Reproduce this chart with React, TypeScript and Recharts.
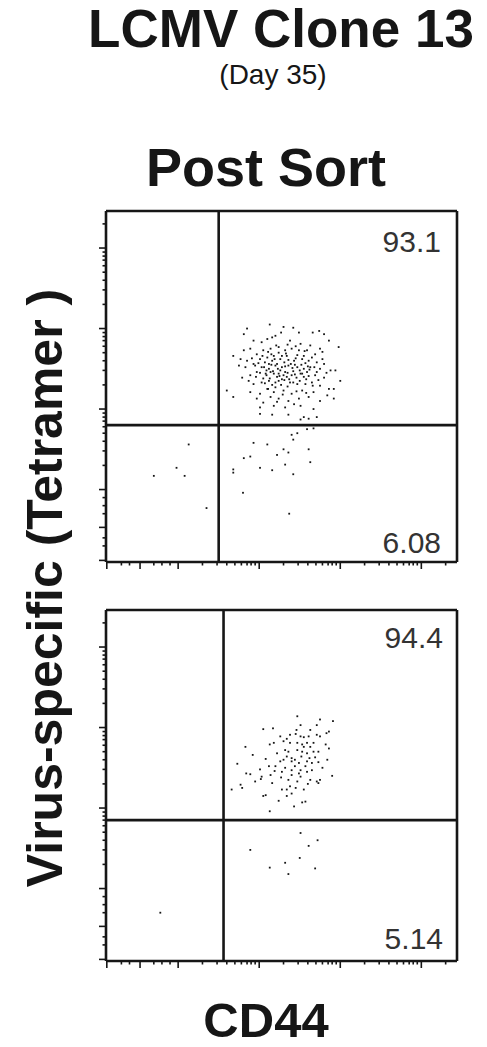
import React from 'react'
import {
  ScatterChart,
  Scatter,
  XAxis,
  YAxis,
  ReferenceLine,
} from 'recharts'

// axis units: 0 = zero channel, 1..3 = decades (biexponential display)
const X_DOMAIN: [number, number] = [-0.89, 3.44]
const Y_DOMAIN: [number, number] = [-0.9, 3.46]

const MAJOR_TICKS = [-0.88, -0.47, 0, 1, 2, 3]
const NEG_MINOR_TICKS = [-0.7, -0.6, -0.3, -0.2, -0.1]
const DECADES = [0, 1, 2, 3]
const LOG_OFFSETS = [0.3, 0.48, 0.6, 0.7, 0.78, 0.85, 0.9, 0.95]

const MINOR_TICKS = [
  ...NEG_MINOR_TICKS,
  ...DECADES.flatMap((d) => LOG_OFFSETS.map((o) => +(d + o).toFixed(2))),
].filter((t) => t < 3.42)

const ALL_TICKS = [...MAJOR_TICKS, ...MINOR_TICKS].sort((a, b) => a - b)

// ---- Panel 1 (top) ----
const GATE_X_1 = 0.5
const GATE_Y_1 = 0.8

const upperRight1: [number, number][] = [
  [1.13, 2.05], [1.30, 2.02], [1.42, 2.01], [0.81, 1.93], [1.27, 1.95], [1.49, 1.95],
  [1.66, 1.95], [1.74, 1.97], [1.80, 1.93], [0.85, 2.00],
  [0.93, 1.85], [1.03, 1.83], [1.10, 1.87], [1.16, 1.89], [1.20, 1.91], [1.38, 1.85],
  [1.51, 1.81], [1.63, 1.79], [1.75, 1.75], [1.98, 1.77], [1.86, 1.85],
  [0.81, 1.73], [0.89, 1.75], [0.97, 1.68], [1.05, 1.73], [1.14, 1.75], [1.24, 1.77],
  [1.32, 1.73], [1.40, 1.75], [1.49, 1.73], [1.59, 1.73], [1.69, 1.68], [1.78, 1.71],
  [0.68, 1.66], [0.77, 1.62], [0.85, 1.60], [0.93, 1.56], [1.01, 1.62], [1.10, 1.64],
  [1.18, 1.66], [1.26, 1.62], [1.34, 1.66], [1.43, 1.60], [1.53, 1.62], [1.61, 1.60],
  [1.71, 1.58], [1.80, 1.56],
  [0.75, 1.54], [0.83, 1.52], [0.95, 1.54], [1.03, 1.52], [1.12, 1.50], [1.20, 1.54],
  [1.28, 1.52], [1.36, 1.54], [1.47, 1.52], [1.55, 1.50], [1.63, 1.52], [1.75, 1.50],
  [1.88, 1.48], [1.94, 1.48],
  [0.79, 1.39], [0.89, 1.42], [0.97, 1.46], [1.08, 1.44], [1.14, 1.46], [1.24, 1.44],
  [1.32, 1.46], [1.40, 1.42], [1.51, 1.44], [1.59, 1.46], [1.69, 1.42], [1.80, 1.39],
  [2.00, 1.35],
  [0.87, 1.35], [0.93, 1.31], [1.03, 1.33], [1.12, 1.35], [1.20, 1.33], [1.28, 1.37],
  [1.38, 1.33], [1.47, 1.31], [1.57, 1.31], [1.65, 1.33], [1.75, 1.29], [1.92, 1.25],
  [0.68, 1.15], [0.89, 1.21], [1.01, 1.19], [1.10, 1.25], [1.18, 1.21], [1.30, 1.23],
  [1.40, 1.19], [1.53, 1.23], [1.67, 1.21], [1.84, 1.17], [1.86, 1.25],
  [0.97, 1.13], [1.05, 1.08], [1.14, 1.15], [1.24, 1.13], [1.36, 1.10], [1.49, 1.13],
  [1.61, 1.15], [1.75, 1.10], [1.92, 1.13],
  [1.01, 1.02], [1.18, 1.04], [1.32, 1.02], [1.51, 1.04], [1.67, 1.00],
  [1.01, 0.94], [1.16, 0.93], [1.36, 0.93], [1.55, 0.90], [1.61, 0.88], [1.71, 0.90],
  [0.60, 1.23], [1.51, 0.87],
  // dense core
  [1.07, 1.58], [1.16, 1.60], [1.22, 1.56], [1.31, 1.58], [1.39, 1.56], [1.45, 1.63],
  [1.09, 1.48], [1.18, 1.44], [1.26, 1.48], [1.34, 1.40], [1.42, 1.47], [1.50, 1.48],
  [1.13, 1.38], [1.22, 1.40], [1.30, 1.42], [1.37, 1.37], [1.46, 1.39], [1.55, 1.40],
  [1.01, 1.45], [1.15, 1.68], [1.24, 1.70], [1.33, 1.69], [1.57, 1.57], [1.62, 1.49],
  [1.05, 1.38], [1.27, 1.30], [1.35, 1.28], [1.20, 1.27], [1.44, 1.55], [1.12, 1.56],
  [1.04, 1.66], [1.11, 1.71], [1.19, 1.62], [1.28, 1.66], [1.36, 1.61], [1.47, 1.67],
  [1.55, 1.66], [1.65, 1.64], [1.06, 1.52], [1.15, 1.55], [1.23, 1.50], [1.32, 1.53],
  [1.41, 1.51], [1.52, 1.55], [1.60, 1.53], [1.68, 1.52], [1.09, 1.42], [1.17, 1.47],
  [1.25, 1.41], [1.35, 1.45], [1.44, 1.43], [1.53, 1.44], [1.61, 1.41], [1.71, 1.46],
  [1.07, 1.32], [1.16, 1.30], [1.24, 1.35], [1.31, 1.36], [1.42, 1.33], [1.50, 1.35],
  [1.58, 1.37], [1.66, 1.29], [0.99, 1.57], [0.96, 1.40], [1.78, 1.62], [1.83, 1.45],
  [1.73, 1.36], [0.91, 1.63], [1.21, 1.79], [1.35, 1.80], [1.45, 1.78], [1.56, 1.72],
  [1.11, 1.25], [1.29, 1.18], [1.46, 1.22], [1.58, 1.20], [1.22, 1.09], [1.43, 1.06],
]

const lowerRight1: [number, number][] = [
  [1.40, 0.68], [1.42, 0.62], [1.47, 0.70], [1.59, 0.75], [1.67, 0.76], [0.93, 0.58],
  [1.10, 0.56], [1.30, 0.50], [1.22, 0.43], [1.36, 0.46], [1.61, 0.50], [0.89, 0.41],
  [0.81, 0.39], [1.01, 0.27], [1.16, 0.24], [1.32, 0.31], [1.42, 0.19], [1.63, 0.34],
  [0.68, 0.25], [0.68, 0.21], [0.80, -0.04], [1.37, -0.30],
]

const lowerLeft1: [number, number][] = [
  [-0.30, 0.17], [-0.02, 0.27], [0.08, 0.17], [0.13, 0.56], [0.35, -0.23],
]

// ---- Panel 2 (bottom) ----
const GATE_X_2 = 0.56
const GATE_Y_2 = 0.85

const upperRight2: [number, number][] = [
  [1.47, 2.14], [1.75, 2.10], [1.91, 2.08], [1.51, 2.03], [1.71, 2.03], [1.05, 1.98],
  [1.17, 1.99], [1.46, 1.97], [1.63, 1.97], [1.83, 1.93], [1.86, 1.95], [1.26, 1.89],
  [1.38, 1.91], [1.51, 1.89], [1.55, 1.88], [1.61, 1.89], [1.71, 1.91], [1.75, 1.89],
  [1.13, 1.79], [1.18, 1.81], [1.30, 1.83], [1.38, 1.81], [1.47, 1.81], [1.53, 1.79],
  [1.59, 1.81], [1.67, 1.81], [1.82, 1.79], [1.86, 1.74], [0.83, 1.76],
  [1.22, 1.68], [1.32, 1.72], [1.47, 1.72], [1.53, 1.70], [1.59, 1.68], [1.67, 1.70],
  [1.73, 1.70], [0.92, 1.66], [1.34, 1.64],
  [0.73, 1.55], [1.26, 1.58], [1.30, 1.60], [1.40, 1.58], [1.49, 1.56], [1.59, 1.58],
  [1.65, 1.56], [1.73, 1.57], [1.84, 1.60],
  [1.01, 1.48], [1.12, 1.52], [1.20, 1.52], [1.32, 1.50], [1.40, 1.47], [1.51, 1.47],
  [1.59, 1.45], [1.65, 1.47], [1.78, 1.50],
  [0.84, 1.43], [0.89, 1.42], [1.03, 1.39], [1.14, 1.41], [1.28, 1.45], [1.40, 1.41],
  [1.49, 1.43], [1.51, 1.39], [1.90, 1.40],
  [0.77, 1.29], [0.95, 1.33], [1.02, 1.36], [1.16, 1.31], [1.36, 1.35], [1.47, 1.33],
  [1.63, 1.35], [1.71, 1.33], [1.75, 1.35],
  [0.66, 1.23], [0.79, 1.25], [1.28, 1.23], [1.34, 1.23], [1.38, 1.27], [1.45, 1.25],
  [1.55, 1.23], [1.73, 1.31],
  [1.05, 1.15], [1.08, 1.16], [1.24, 1.09], [1.34, 1.15], [1.40, 1.18], [1.53, 1.07],
  [1.57, 1.08], [1.13, 0.96], [1.43, 1.02],
  [1.40, 1.62], [1.55, 1.76], [1.62, 1.62], [1.44, 1.52],
  [1.44, 1.60], [1.52, 1.64], [1.36, 1.70], [1.63, 1.76], [1.57, 1.52], [1.27, 1.38],
  [1.19, 1.46], [1.69, 1.63], [1.45, 1.92], [1.34, 1.86], [1.08, 1.61], [1.60, 1.30],
]

const lowerRight2: [number, number][] = [
  [1.51, 0.69], [1.72, 0.60], [1.61, 0.53], [0.89, 0.48], [1.13, 0.26], [1.32, 0.32],
  [1.50, 0.38], [1.69, 0.25], [1.36, 0.18],
]

const lowerLeft2: [number, number][] = [[-0.22, -0.30]]

const PLOT = 351
const AXIS_W = 10
const PAD = 4
const INK = '#161616'
const FONT = '"Liberation Sans", Arial, sans-serif'

const toData = (pts: [number, number][]) => pts.map(([x, y]) => ({ x, y }))

const Dot = (props: any) => (
  <rect x={props.cx - 0.9} y={props.cy - 0.9} width={1.8} height={1.8} fill={INK} />
)

const XTick = (props: any) => {
  const major = MAJOR_TICKS.includes(props.payload.value)
  return (
    <line x1={props.x} x2={props.x} y1={props.y} y2={props.y + (major ? 7 : 3.5)}
      stroke={INK} strokeWidth={1.6} />
  )
}

const YTick = (props: any) => {
  const major = MAJOR_TICKS.includes(props.payload.value)
  return (
    <line x1={props.x} x2={props.x - (major ? 7 : 3.5)} y1={props.y} y2={props.y}
      stroke={INK} strokeWidth={1.6} />
  )
}

interface PanelProps {
  top: number
  gateX: number
  gateY: number
  series: [number, number][][]
}

function FlowPanel({ top, gateX, gateY, series }: PanelProps) {
  const line = { stroke: INK, strokeWidth: 2.6 }
  return (
    <div style={{ position: 'absolute', left: 106 - AXIS_W, top: top - PAD }}>
      <ScatterChart
        width={AXIS_W + PLOT + PAD}
        height={PAD + PLOT + AXIS_W}
        margin={{ top: PAD, right: PAD, bottom: 0, left: 0 }}
      >
        <XAxis
          type="number"
          dataKey="x"
          domain={X_DOMAIN}
          ticks={ALL_TICKS}
          interval={0}
          allowDataOverflow
          height={AXIS_W}
          tickSize={0}
          tickMargin={0}
          tickLine={false}
          axisLine={line}
          tick={XTick}
        />
        <YAxis
          type="number"
          dataKey="y"
          domain={Y_DOMAIN}
          ticks={ALL_TICKS}
          interval={0}
          allowDataOverflow
          width={AXIS_W}
          tickSize={0}
          tickMargin={0}
          tickLine={false}
          axisLine={line}
          tick={YTick}
        />
        <ReferenceLine y={Y_DOMAIN[1]} {...line} />
        <ReferenceLine x={X_DOMAIN[1]} {...line} />
        <ReferenceLine x={gateX} {...line} />
        <ReferenceLine y={gateY} {...line} />
        {series.map((pts, i) => (
          <Scatter key={i} data={toData(pts)} shape={Dot} isAnimationActive={false} />
        ))}
      </ScatterChart>
    </div>
  )
}

export default function App() {
  return (
    <div style={{
      position: 'absolute', left: 0, top: 0, width: 487, height: 1047,
      background: '#fff', fontFamily: FONT, overflow: 'hidden',
    }}>
      <FlowPanel top={211} gateX={GATE_X_1} gateY={GATE_Y_1}
        series={[upperRight1, lowerRight1, lowerLeft1]} />
      <FlowPanel top={610} gateX={GATE_X_2} gateY={GATE_Y_2}
        series={[upperRight2, lowerRight2, lowerLeft2]} />

      <svg width={487} height={1047}
        style={{ position: 'absolute', left: 0, top: 0, pointerEvents: 'none' }}>
        <g fontFamily={FONT} fill={INK}>
          <text x={281} y={47} fontSize={53} fontWeight="bold" textAnchor="middle">
            LCMV Clone 13
          </text>
          <text x={273} y={84} fontSize={28} textAnchor="middle">(Day 35)</text>
          <text x={266} y={186} fontSize={54} fontWeight="bold" textAnchor="middle">
            Post Sort
          </text>
          <text x={62} y={588} fontSize={50} fontWeight="bold" textAnchor="middle"
            transform="rotate(-90 62 588)">
            Virus-specific (Tetramer )
          </text>
          <text x={266} y={1037} fontSize={49} fontWeight="bold" textAnchor="middle">
            CD44
          </text>
          <g fontSize={30} textAnchor="end" fill="#333">
            <text x={441} y={252}>93.1</text>
            <text x={441} y={553}>6.08</text>
            <text x={443} y={648}>94.4</text>
            <text x={443} y={949}>5.14</text>
          </g>
        </g>
      </svg>
    </div>
  )
}
